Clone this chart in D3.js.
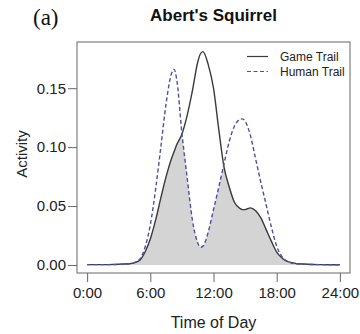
<!DOCTYPE html>
<html>
<head>
<meta charset="utf-8">
<script src="https://cdn.jsdelivr.net/npm/d3@7"></script>
<style>
  body { margin: 0; background: #fff; }
  svg { display: block; font-family: "Liberation Sans", Arial, sans-serif; }
</style>
</head>
<body>
<script>
// activity density
var hours = [0, 2, 4, 4.5, 5, 5.5, 6, 6.5, 7, 7.5, 8, 8.25, 8.5, 9, 9.5, 10, 10.5, 10.75, 11, 11.5,
  12, 12.5, 13, 13.5, 14, 14.5, 14.75, 15, 15.5, 16, 16.5, 17, 17.5, 18, 18.5, 19, 19.5, 20, 22, 24];
var gameTrail = [0.0003, 0.0003, 0.001, 0.002, 0.004, 0.011, 0.022, 0.038, 0.057, 0.075, 0.090, 0.096, 0.102, 0.111, 0.127, 0.148, 0.172, 0.179, 0.181, 0.170,
  0.150, 0.115, 0.083, 0.066, 0.053, 0.048, 0.047, 0.047, 0.0485, 0.046, 0.040, 0.030, 0.020, 0.011, 0.006, 0.003, 0.002, 0.001, 0.0003, 0.0002];
var humanTrail = [0.0003, 0.0003, 0.001, 0.002, 0.005, 0.015, 0.034, 0.064, 0.100, 0.137, 0.162, 0.166, 0.158, 0.112, 0.074, 0.038, 0.019, 0.015, 0.016, 0.028,
  0.047, 0.066, 0.086, 0.105, 0.118, 0.1235, 0.124, 0.122, 0.110, 0.090, 0.070, 0.051, 0.032, 0.016, 0.007, 0.003, 0.0015, 0.001, 0.0003, 0.0002];

var xTicks = [0, 6, 12, 18, 24];
var xTickLabels = ["0:00", "6:00", "12:00", "18:00", "24:00"];
var yTicks = [0, 0.05, 0.10, 0.15];
var seriesNames = ["Game Trail", "Human Trail"];

var width = 360, height = 334;
var box = { left: 77, right: 350, top: 42, bottom: 273 };

var svg = d3.select("body").append("svg")
  .attr("width", width)
  .attr("height", height);

var x = d3.scaleLinear().domain([-0.96, 24.96]).range([box.left, box.right]);
var y = d3.scaleLinear().domain([-0.0068, 0.1892]).range([box.bottom, box.top]);

var game = hours.map(function(h, i) { return [h, gameTrail[i]]; });
var human = hours.map(function(h, i) { return [h, humanTrail[i]]; });

var area = d3.area()
  .x(function(d) { return x(d[0]); })
  .y0(y(0))
  .y1(function(d) { return y(d[1]); })
  .curve(d3.curveMonotoneX);

var line = d3.line()
  .x(function(d) { return x(d[0]); })
  .y(function(d) { return y(d[1]); })
  .curve(d3.curveMonotoneX);

// overlap region = area under game clipped by area under human
svg.append("defs").append("clipPath")
  .attr("id", "humanClip")
  .append("path")
  .attr("d", area(human));

svg.append("path")
  .attr("d", area(game))
  .attr("clip-path", "url(#humanClip)")
  .attr("fill", "#d4d4d4");

svg.append("path")
  .attr("d", line(game))
  .attr("fill", "none")
  .attr("stroke", "#3a3a3a")
  .attr("stroke-width", 1.4);

svg.append("path")
  .attr("d", line(human))
  .attr("fill", "none")
  .attr("stroke", "#4f4f9e")
  .attr("stroke-width", 1.4)
  .attr("stroke-dasharray", "4,2.5");

// box
svg.append("rect")
  .attr("x", box.left)
  .attr("y", box.top)
  .attr("width", box.right - box.left)
  .attr("height", box.bottom - box.top)
  .attr("fill", "none")
  .attr("stroke", "#666")
  .attr("stroke-width", 1);

// axes
var xAxis = svg.append("g")
  .attr("transform", "translate(0," + box.bottom + ")")
  .call(d3.axisBottom(x).tickValues(xTicks)
    .tickFormat(function(d, i) { return xTickLabels[i]; })
    .tickSize(9).tickPadding(5));
xAxis.select(".domain").remove();
xAxis.selectAll("line").attr("stroke", "#666");
xAxis.selectAll("text").attr("font-size", 15).attr("fill", "#222")
  .attr("font-family", "Liberation Sans, Arial, sans-serif");

var yAxis = svg.append("g")
  .attr("transform", "translate(" + box.left + ",0)")
  .call(d3.axisLeft(y).tickValues(yTicks)
    .tickFormat(d3.format(".2f"))
    .tickSize(9).tickPadding(2));
yAxis.select(".domain").remove();
yAxis.selectAll("line").attr("stroke", "#666");
yAxis.selectAll("text").attr("font-size", 15).attr("fill", "#222")
  .attr("font-family", "Liberation Sans, Arial, sans-serif");

// labels
svg.append("text")
  .attr("x", (box.left + box.right) / 2)
  .attr("y", 322)
  .attr("dy", "0.35em")
  .attr("text-anchor", "middle")
  .attr("font-size", 16)
  .attr("fill", "#222")
  .text("Time of Day");

svg.append("text")
  .attr("transform", "translate(22,154) rotate(-90)")
  .attr("dy", "0.35em")
  .attr("text-anchor", "middle")
  .attr("font-size", 15)
  .attr("fill", "#222")
  .text("Activity");

svg.append("text")
  .attr("x", (box.left + box.right) / 2)
  .attr("y", 21)
  .attr("text-anchor", "middle")
  .attr("font-size", 17)
  .attr("font-weight", "bold")
  .attr("fill", "#111")
  .text("Abert's Squirrel");

svg.append("text")
  .attr("x", 33)
  .attr("y", 25)
  .attr("font-family", "Liberation Serif, Times New Roman, serif")
  .attr("font-size", 23)
  .attr("fill", "#111")
  .text("(a)");

// legend
var legend = svg.append("g");
seriesNames.forEach(function(name, i) {
  var ly = 56.5 + i * 15;
  legend.append("line")
    .attr("x1", 247).attr("x2", 268)
    .attr("y1", ly).attr("y2", ly)
    .attr("stroke", i === 0 ? "#3a3a3a" : "#4f4f9e")
    .attr("stroke-width", 1.2)
    .attr("stroke-dasharray", i === 0 ? null : "4,2.5");
  legend.append("text")
    .attr("x", 280)
    .attr("y", ly)
    .attr("dy", "0.35em")
    .attr("font-size", 12)
    .attr("fill", "#222")
    .text(name);
});
</script>
</body>
</html>
